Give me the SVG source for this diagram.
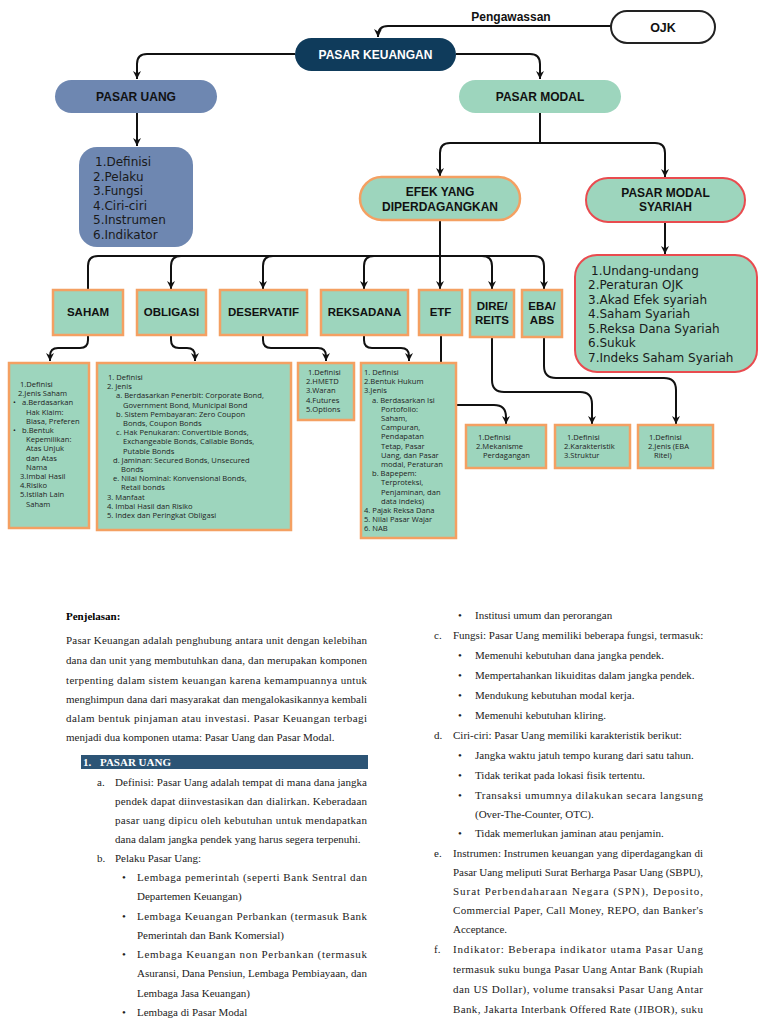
<svg xmlns="http://www.w3.org/2000/svg" width="768" height="1024" viewBox="0 0 768 1024">
<defs>
<marker id="ah" viewBox="0 0 10 10" refX="10" refY="5" markerWidth="4" markerHeight="4" orient="auto" markerUnits="strokeWidth">
<path d="M0,0 L10,5 L0,10 L3,5 z" fill="#111"/>
</marker>
<style>
.hd{font-family:"Liberation Sans",Arial,sans-serif;font-weight:700;font-size:12px;fill:#111;text-anchor:middle}
.hw{fill:#fff}
.bx{font-family:"Liberation Sans",Arial,sans-serif;font-weight:700;font-size:11.5px;fill:#111;text-anchor:middle}
.l13{font-family:"DejaVu Sans",sans-serif;font-size:12px;fill:#1a1a1a}
.l8{font-family:"Open Sans","Noto Sans",sans-serif;font-size:7.6px;fill:#222}
.bd{font-family:"Liberation Serif","Times New Roman",serif;font-size:11px;fill:#222}
.bb{font-family:"Liberation Serif","Times New Roman",serif;font-size:11px;font-weight:700}
.conn path{fill:none;stroke:#111;stroke-width:2}
.arr{marker-end:url(#ah)}
.mint{fill:#9dd5bd}
.org{stroke:#f4a062;stroke-width:2.5}
.red{stroke:#e94b4f;stroke-width:2}
.slate{fill:#6e87b1}
</style>
</defs>
<rect width="768" height="1024" fill="#fff"/>

<g id="connectors" class="conn">
<path class="arr" d="M611,26 H388 Q378,26 378,36 V37"/>
<path class="arr" d="M295,54 H147 Q137,54 137,64 V79"/>
<path class="arr" d="M456,54 H530 Q540,54 540,64 V79"/>
<path class="arr" d="M137,113 V146"/>
<path d="M540,113 V143"/>
<path class="arr" d="M540,143 H450 Q440,143 440,153 V176"/>
<path class="arr" d="M540,143 H655 Q665,143 665,153 V177"/>
<path class="arr" d="M665,222 V254"/>
<path class="arr" d="M440,220 V289"/>
<path class="arr" d="M88,289 V266 Q88,256 98,256 H534 Q544,256 544,266 V289"/>
<path class="arr" d="M181,256 Q171,256 171,266 V289"/>
<path class="arr" d="M273,256 Q263,256 263,266 V289"/>
<path class="arr" d="M374,256 Q364,256 364,266 V289"/>
<path class="arr" d="M482,256 Q492,256 492,266 V289"/>
<path class="arr" d="M88,335 V340 Q88,348 80,348 H58 Q50,348 50,356 V361"/>
<path class="arr" d="M171,335 V340 Q171,348 179,348 H187 Q195,348 195,356 V361"/>
<path class="arr" d="M263,335 V340 Q263,348 271,348 H318 Q326,348 326,356 V361"/>
<path class="arr" d="M364,335 V340 Q364,348 372,348 H401 Q409,348 409,356 V361"/>
<path class="arr" d="M441,335 V393 Q441,405 453,405 H494 Q506,405 506,417 V424"/>
<path class="arr" d="M492,337 V380 Q492,392 504,392 H580 Q592,392 592,404 V424"/>
<path class="arr" d="M544,337 V366 Q544,378 556,378 H664 Q676,378 676,390 V424"/>
</g>
<text class="bx" x="511" y="21" style="font-size:12px">Pengawassan</text>

<g id="ojk"><rect x="611" y="11" width="104" height="32" rx="16" fill="#fff" stroke="#222" stroke-width="2"/><text class="hd" x="663" y="31.5" style="font-size:12.5px">OJK</text></g>
<g id="pasar-keuangan"><rect x="295" y="38" width="161" height="33" rx="16.5" fill="#0f3b5b"/><text class="hd hw" x="375.5" y="59">PASAR KEUANGAN</text></g>
<g id="pasar-uang"><rect x="55" y="80" width="162" height="33" rx="16.5" class="slate"/><text class="hd" x="136" y="101">PASAR UANG</text></g>
<g id="pasar-modal"><rect x="459" y="80" width="162" height="33" rx="16.5" class="mint"/><text class="hd" x="540" y="101">PASAR MODAL</text></g>

<g id="pasar-uang-list"><rect x="79" y="147" width="114" height="100" rx="18" class="slate"/>
<text class="l13"><tspan x="95" y="166">1.Definisi</tspan><tspan x="93" y="180.5">2.Pelaku</tspan><tspan x="93" y="195">3.Fungsi</tspan><tspan x="93" y="209.5">4.Ciri-ciri</tspan><tspan x="93" y="224">5.Instrumen</tspan><tspan x="93" y="238.5">6.Indikator</tspan></text></g>

<g id="efek"><rect x="360" y="177" width="160" height="43" rx="21.5" class="mint org"/><text class="hd"><tspan x="440" y="196">EFEK YANG</tspan><tspan x="440" y="211">DIPERDAGANGKAN</tspan></text></g>
<g id="pasar-modal-syariah"><rect x="586" y="178" width="159" height="44" rx="22" class="mint red"/><text class="hd"><tspan x="665.5" y="196.5">PASAR MODAL</tspan><tspan x="665.5" y="211">SYARIAH</tspan></text></g>
<g id="syariah-list"><rect x="575" y="255" width="182" height="117" rx="22" class="mint red"/>
<text class="l13"><tspan x="591" y="274.5">1.Undang-undang</tspan><tspan x="588" y="289">2.Peraturan OJK</tspan><tspan x="588" y="303.5">3.Akad Efek syariah</tspan><tspan x="588" y="318">4.Saham Syariah</tspan><tspan x="588" y="332.5">5.Reksa Dana Syariah</tspan><tspan x="588" y="347">6.Sukuk</tspan><tspan x="588" y="361.5">7.Indeks Saham Syariah</tspan></text></g>

<g id="saham"><rect x="53" y="290" width="70" height="45" class="mint org"/><text class="bx" x="88" y="316">SAHAM</text></g>
<g id="obligasi"><rect x="137" y="290" width="69" height="45" class="mint org"/><text class="bx" x="171.5" y="316">OBLIGASI</text></g>
<g id="deservatif"><rect x="220" y="290" width="87" height="45" class="mint org"/><text class="bx" x="263.5" y="316">DESERVATIF</text></g>
<g id="reksadana"><rect x="321" y="290" width="87" height="45" class="mint org"/><text class="bx" x="364.5" y="316">REKSADANA</text></g>
<g id="etf"><rect x="419" y="290" width="43" height="45" class="mint org"/><text class="bx" x="440.5" y="316">ETF</text></g>
<g id="dire"><rect x="470" y="290" width="44" height="47" class="mint org"/><text class="bx"><tspan x="492" y="310">DIRE/</tspan><tspan x="492" y="324">REITS</tspan></text></g>
<g id="eba"><rect x="522" y="290" width="40" height="47" class="mint org"/><text class="bx"><tspan x="542" y="310">EBA/</tspan><tspan x="542" y="324">ABS</tspan></text></g>

<g id="saham-list"><rect x="9" y="363" width="80" height="165" class="mint org"/>
<text class="l8"><tspan x="20" y="387">1.Definisi</tspan><tspan x="18" y="396.2">2.Jenis Saham</tspan><tspan x="13" y="405.4">•</tspan><tspan x="22" y="405.4">a.Berdasarkan</tspan><tspan x="26" y="414.6">Hak Klaim:</tspan><tspan x="26" y="423.8">Biasa, Preferen</tspan><tspan x="13" y="433">•</tspan><tspan x="22" y="433">b.Bentuk</tspan><tspan x="26" y="442.2">Kepemilikan:</tspan><tspan x="26" y="451.4">Atas Unjuk</tspan><tspan x="26" y="460.6">dan Atas</tspan><tspan x="26" y="469.8">Nama</tspan><tspan x="20" y="479">3.Imbal Hasil</tspan><tspan x="20" y="488.2">4.Risiko</tspan><tspan x="20" y="497.4">5.Istilah Lain</tspan><tspan x="26" y="506.6">Saham</tspan></text></g>

<g id="obligasi-list"><rect x="97" y="363" width="194" height="167" class="mint org"/>
<text class="l8"><tspan x="108" y="380">1. Definisi</tspan><tspan x="107" y="389.2">2. Jenis</tspan><tspan x="116" y="398.4">a. Berdasarkan Penerbit: Corporate Bond,</tspan><tspan x="123" y="407.6">Government Bond, Municipal Bond</tspan><tspan x="116" y="416.8">b. Sistem Pembayaran: Zero Coupon</tspan><tspan x="123" y="426">Bonds, Coupon Bonds</tspan><tspan x="116" y="435.2">c. Hak Penukaran: Convertible Bonds,</tspan><tspan x="123" y="444.4">Exchangeable Bonds, Callable Bonds,</tspan><tspan x="123" y="453.6">Putable Bonds</tspan><tspan x="113" y="462.8">d. Jaminan: Secured Bonds, Unsecured</tspan><tspan x="121" y="472">Bonds</tspan><tspan x="113" y="481.2">e. Nilai Nominal: Konvensional Bonds,</tspan><tspan x="121" y="490.4">Retail bonds</tspan><tspan x="107" y="499.6">3. Manfaat</tspan><tspan x="107" y="508.8">4. Imbal Hasil dan Risiko</tspan><tspan x="107" y="518">5. Index dan Peringkat Obligasi</tspan></text></g>

<g id="deservatif-list"><rect x="298" y="363" width="56" height="57" class="mint org"/>
<text class="l8"><tspan x="308" y="375">1.Definisi</tspan><tspan x="306" y="384.2">2.HMETD</tspan><tspan x="306" y="393.4">3.Waran</tspan><tspan x="306" y="402.6">4.Futures</tspan><tspan x="306" y="411.8">5.Options</tspan></text></g>

<g id="reksadana-list"><rect x="361" y="363" width="95" height="175" class="mint org"/>
<text class="l8"><tspan x="364" y="375">1. Definisi</tspan><tspan x="364" y="384.2">2.Bentuk Hukum</tspan><tspan x="364" y="393.4">3.Jenis</tspan><tspan x="372" y="402.6">a. Berdasarkan Isi</tspan><tspan x="381" y="411.8">Portofolio:</tspan><tspan x="381" y="421">Saham,</tspan><tspan x="381" y="430.2">Campuran,</tspan><tspan x="381" y="439.4">Pendapatan</tspan><tspan x="381" y="448.6">Tetap, Pasar</tspan><tspan x="381" y="457.8">Uang, dan Pasar</tspan><tspan x="381" y="467">modal, Peraturan</tspan><tspan x="372" y="476.2">b. Bapepem:</tspan><tspan x="381" y="485.4">Terproteksi,</tspan><tspan x="381" y="494.6">Penjaminan, dan</tspan><tspan x="381" y="503.8">data indeks)</tspan><tspan x="364" y="513">4. Pajak Reksa Dana</tspan><tspan x="364" y="522.2">5. Nilai Pasar Wajar</tspan><tspan x="364" y="531.4">6. NAB</tspan></text></g>

<g id="etf-list"><rect x="466" y="425" width="80" height="43" class="mint org"/>
<text class="l8"><tspan x="478" y="440">1.Definisi</tspan><tspan x="476" y="449.2">2.Mekanisme</tspan><tspan x="483" y="458.4">Perdagangan</tspan></text></g>
<g id="dire-list"><rect x="555" y="425" width="75" height="43" class="mint org"/>
<text class="l8"><tspan x="567" y="440">1.Definisi</tspan><tspan x="564" y="449.2">2.Karakteristik</tspan><tspan x="564" y="458.4">3.Struktur</tspan></text></g>
<g id="eba-list"><rect x="638" y="425" width="75" height="43" class="mint org"/>
<text class="l8"><tspan x="649" y="440">1.Definisi</tspan><tspan x="648" y="449.2">2.Jenis (EBA</tspan><tspan x="654" y="458.4">Ritel)</tspan></text></g>

<g id="text-left">
<text class="bb" x="66" y="620">Penjelasan:</text>
<text class="bd" x="66" y="644" textLength="301" lengthAdjust="spacing">Pasar Keuangan adalah penghubung antara unit dengan kelebihan</text>
<text class="bd" x="66" y="664" textLength="301" lengthAdjust="spacing">dana dan unit yang membutuhkan dana, dan merupakan komponen</text>
<text class="bd" x="66" y="684" textLength="301" lengthAdjust="spacing">terpenting dalam sistem keuangan karena kemampuannya untuk</text>
<text class="bd" x="66" y="703" textLength="301" lengthAdjust="spacing">menghimpun dana dari masyarakat dan mengalokasikannya kembali</text>
<text class="bd" x="66" y="722" textLength="301" lengthAdjust="spacing">dalam bentuk pinjaman atau investasi. Pasar Keuangan terbagi</text>
<text class="bd" x="66" y="741">menjadi dua komponen utama: Pasar Uang dan Pasar Modal.</text>
<rect x="81" y="755" width="287" height="14" fill="#2c5475"/>
<text class="bb" fill="#fff" x="83" y="766">1.</text><text class="bb" fill="#fff" x="100" y="766">PASAR UANG</text>
<text class="bd" x="97" y="786">a.</text>
<text class="bd" x="115" y="786" textLength="252" lengthAdjust="spacing">Definisi: Pasar Uang adalah tempat di mana dana jangka</text>
<text class="bd" x="115" y="805" textLength="252" lengthAdjust="spacing">pendek dapat diinvestasikan dan dialirkan. Keberadaan</text>
<text class="bd" x="115" y="824" textLength="252" lengthAdjust="spacing">pasar uang dipicu oleh kebutuhan untuk mendapatkan</text>
<text class="bd" x="115" y="843">dana dalam jangka pendek yang harus segera terpenuhi.</text>
<text class="bd" x="97" y="862">b.</text><text class="bd" x="115" y="862">Pelaku Pasar Uang:</text>
<text class="bd" x="122" y="881">•</text>
<text class="bd" x="137" y="881" textLength="230" lengthAdjust="spacing">Lembaga pemerintah (seperti Bank Sentral dan</text>
<text class="bd" x="137" y="900">Departemen Keuangan)</text>
<text class="bd" x="122" y="920">•</text>
<text class="bd" x="137" y="920" textLength="230" lengthAdjust="spacing">Lembaga Keuangan Perbankan (termasuk Bank</text>
<text class="bd" x="137" y="939">Pemerintah dan Bank Komersial)</text>
<text class="bd" x="122" y="958">•</text>
<text class="bd" x="137" y="958" textLength="230" lengthAdjust="spacing">Lembaga Keuangan non Perbankan (termasuk</text>
<text class="bd" x="137" y="977" textLength="230" lengthAdjust="spacing">Asuransi, Dana Pensiun, Lembaga Pembiayaan, dan</text>
<text class="bd" x="137" y="997">Lembaga Jasa Keuangan)</text>
<text class="bd" x="122" y="1016">•</text>
<text class="bd" x="137" y="1016">Lembaga di Pasar Modal</text>
</g>

<g id="text-right">
<text class="bd" x="458" y="619">•</text><text class="bd" x="475" y="619">Institusi umum dan perorangan</text>
<text class="bd" x="434" y="639">c.</text><text class="bd" x="453" y="639">Fungsi: Pasar Uang memiliki beberapa fungsi, termasuk:</text>
<text class="bd" x="458" y="659">•</text><text class="bd" x="475" y="659">Memenuhi kebutuhan dana jangka pendek.</text>
<text class="bd" x="458" y="679">•</text><text class="bd" x="475" y="679">Mempertahankan likuiditas dalam jangka pendek.</text>
<text class="bd" x="458" y="699">•</text><text class="bd" x="475" y="699">Mendukung kebutuhan modal kerja.</text>
<text class="bd" x="458" y="719">•</text><text class="bd" x="475" y="719">Memenuhi kebutuhan kliring.</text>
<text class="bd" x="434" y="739">d.</text><text class="bd" x="453" y="739">Ciri-ciri: Pasar Uang memiliki karakteristik berikut:</text>
<text class="bd" x="458" y="759">•</text><text class="bd" x="475" y="759">Jangka waktu jatuh tempo kurang dari satu tahun.</text>
<text class="bd" x="458" y="779">•</text><text class="bd" x="475" y="779">Tidak terikat pada lokasi fisik tertentu.</text>
<text class="bd" x="458" y="799">•</text><text class="bd" x="475" y="799" textLength="228" lengthAdjust="spacing">Transaksi umumnya dilakukan secara langsung</text>
<text class="bd" x="475" y="818">(Over-The-Counter, OTC).</text>
<text class="bd" x="458" y="837">•</text><text class="bd" x="475" y="837">Tidak memerlukan jaminan atau penjamin.</text>
<text class="bd" x="434" y="857">e.</text>
<text class="bd" x="453" y="857" textLength="250" lengthAdjust="spacing">Instrumen: Instrumen keuangan yang diperdagangkan di</text>
<text class="bd" x="453" y="876" textLength="250" lengthAdjust="spacing">Pasar Uang meliputi Surat Berharga Pasar Uang (SBPU),</text>
<text class="bd" x="453" y="895" textLength="250" lengthAdjust="spacing">Surat Perbendaharaan Negara (SPN), Deposito,</text>
<text class="bd" x="453" y="914" textLength="250" lengthAdjust="spacing">Commercial Paper, Call Money, REPO, dan Banker's</text>
<text class="bd" x="453" y="933">Acceptance.</text>
<text class="bd" x="434" y="953">f.</text>
<text class="bd" x="453" y="953" textLength="250" lengthAdjust="spacing">Indikator: Beberapa indikator utama Pasar Uang</text>
<text class="bd" x="453" y="973" textLength="250" lengthAdjust="spacing">termasuk suku bunga Pasar Uang Antar Bank (Rupiah</text>
<text class="bd" x="453" y="993" textLength="250" lengthAdjust="spacing">dan US Dollar), volume transaksi Pasar Uang Antar</text>
<text class="bd" x="453" y="1013" textLength="250" lengthAdjust="spacing">Bank, Jakarta Interbank Offered Rate (JIBOR), suku</text>
</g>
</svg>
